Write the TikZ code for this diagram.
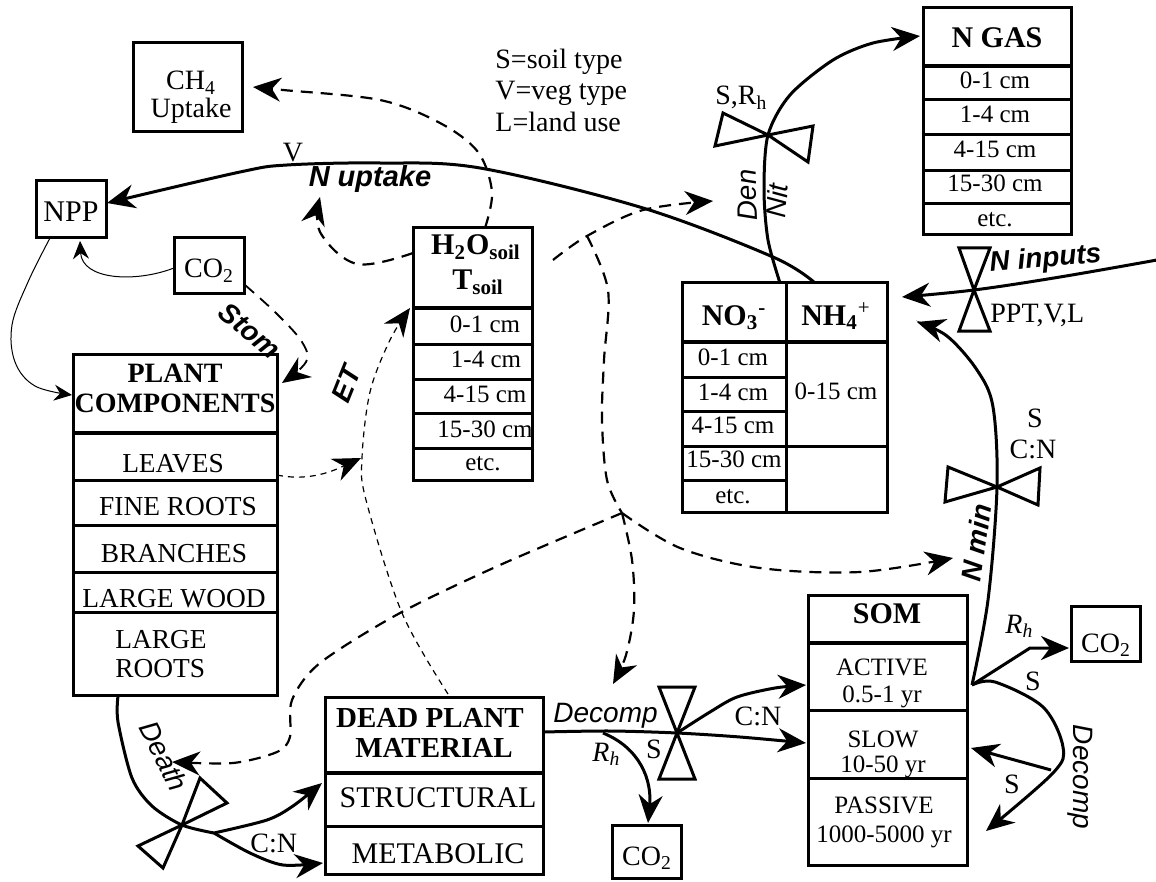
\documentclass[tikz,border=0pt]{standalone}
\usepackage{fontspec}
\setmainfont{Liberation Serif}
\setsansfont{Liberation Sans}
\usetikzlibrary{arrows.meta,fit}
\begin{document}
\begin{tikzpicture}[x=0.5pt,y=-0.5pt,
  box/.style={draw,line width=1.5pt,inner sep=0pt},
  sepl/.style={line width=1.5pt},
  hsep/.style={line width=2.4pt},
  row/.style={inner sep=0pt,anchor=base,font=\fontsize{13.7}{15}\selectfont},
  dep/.style={inner sep=0pt,anchor=base,font=\fontsize{12.5}{14}\selectfont},
  hdr/.style={inner sep=0pt,anchor=base,font=\bfseries\fontsize{15}{16}\selectfont},
  lbl/.style={inner sep=0pt,anchor=base,font=\fontsize{14}{16}\selectfont},
  bil/.style={inner sep=0pt,font=\sffamily\bfseries\itshape\fontsize{14}{16}\selectfont},
  sil/.style={inner sep=0pt,font=\sffamily\itshape\fontsize{14}{16}\selectfont},
  tip/.style={-{Stealth[length=14pt,width=12pt,inset=4.5pt]}},
  smalltip/.style={-{Stealth[length=9pt,width=8pt,inset=3pt]}},
  flow/.style={line width=1.5pt,tip},
  dflow/.style={line width=1.1pt,dash pattern=on 6pt off 4pt},
  tdash/.style={line width=0.6pt,dash pattern=on 3pt off 2.5pt},
  thinl/.style={line width=0.5pt},
  valve/.style={line width=1.5pt,line join=miter}
]
\useasboundingbox (0,0) rectangle (1156,882);

% ---------------- boxes ----------------
\node[box,fit={(133,43)(242,132)}] (ch4) {};
\node[lbl] (ch4a) at (191,90) {CH\textsubscript{4}};
\node[lbl] (ch4b) at (191,118) {Uptake};

\node[box,fit={(36,181)(106,238)}] (npp) {};
\node[lbl,font=\fontsize{15}{16}\selectfont] (nppt) at (71,222) {NPP};

\node[box,fit={(174,238)(244,293)}] (co2a) {};
\node[lbl] (co2at) at (209,278) {CO\textsubscript{2}};

% plant components
\node[box,fit={(73,354)(277,695)}] (plant) {};
\draw[hsep] (73,433) -- (277,433);
\draw[sepl] (73,480) -- (277,480) (73,525) -- (277,525) (73,572) -- (277,572) (73,612) -- (277,612);
\node[hdr,font=\bfseries\fontsize{14}{15}\selectfont] (pl1) at (175,382) {PLANT};
\node[hdr,font=\bfseries\fontsize{14}{15}\selectfont] (pl2) at (175,412) {COMPONENTS};
\node[row] (pl3) at (173,472) {LEAVES};
\node[row] (pl4) at (178,515) {FINE ROOTS};
\node[row] (pl5) at (174,562) {BRANCHES};
\node[row] (pl6) at (174,607) {LARGE WOOD};
\node[row,anchor=base west] (pl7) at (115,648) {LARGE};
\node[row,anchor=base west] (pl8) at (115,677) {ROOTS};

% H2O / T soil
\node[box,fit={(413,228)(532,480)}] (h2o) {};
\draw[hsep] (413,308) -- (532,308);
\draw[sepl] (413,344) -- (532,344) (413,379) -- (532,379) (413,413) -- (532,413) (413,448) -- (532,448);
\node[hdr] (h1) at (476,255) {H\textsubscript{2}O\textsubscript{soil}};
\node[hdr] (h2) at (478,290) {T\textsubscript{soil}};
\node[dep] (h3) at (485,332) {0-1 cm};
\node[dep] (h4) at (486,367) {1-4 cm};
\node[dep] (h5) at (485,402) {4-15 cm};
\node[dep] (h6) at (485,437) {15-30 cm};
\node[dep] (h7) at (483,470) {etc.};

% NO3 / NH4
\node[box,fit={(682,283)(887,512)}] (nbox) {};
\draw[sepl] (786,283) -- (786,512);
\draw[hsep] (682,342) -- (887,342);
\draw[sepl] (682,377) -- (786,377) (682,411) -- (786,411) (682,446) -- (887,446) (682,480) -- (786,480);
\node[hdr] (n1) at (734,325) {NO\textsubscript{3}\textsuperscript{-}};
\node[hdr] (n2) at (836,325) {NH\textsubscript{4}\textsuperscript{\mdseries +}};
\node[dep] (n3) at (733,365) {0-1 cm};
\node[dep] (n4) at (733,400) {1-4 cm};
\node[dep] (n5) at (733,433) {4-15 cm};
\node[dep] (n6) at (734,467) {15-30 cm};
\node[dep] (n7) at (733,503) {etc.};
\node[dep] (n8) at (836,399) {0-15 cm};

% N GAS
\node[box,fit={(923,8)(1071,235)}] (ngas) {};
\draw[hsep] (923,66) -- (1073,66);
\draw[sepl] (923,100) -- (1071,100) (923,135) -- (1071,135) (923,171) -- (1071,171) (923,204) -- (1071,204);
\node[hdr] (g1) at (997,48) {N GAS};
\node[dep] (g2) at (995,89) {0-1 cm};
\node[dep] (g3) at (995,123) {1-4 cm};
\node[dep] (g4) at (995,158) {4-15 cm};
\node[dep] (g5) at (995,192) {15-30 cm};
\node[dep] (g6) at (995,227) {etc.};

% SOM
\node[box,fit={(808,595)(967,865)}] (som) {};
\draw[hsep] (808,643) -- (967,643);
\draw[sepl] (808,710) -- (967,710) (808,778) -- (967,778);
\node[hdr] (s1) at (887,623) {SOM};
\node[dep] (s2) at (882,675) {ACTIVE};
\node[dep] (s3) at (882,702) {0.5-1 yr};
\node[dep] (s4) at (883,747) {SLOW};
\node[dep] (s5) at (883,772) {10-50 yr};
\node[dep] (s6) at (884,813) {PASSIVE};
\node[dep] (s7) at (884,842) {1000-5000 yr};

\node[box,fit={(1071,606)(1140,661)}] (co2c) {};
\node[lbl] (co2ct) at (1106,652) {CO\textsubscript{2}};

% Dead plant material
\node[box,fit={(325,697)(543,874)}] (dead) {};
\draw[hsep] (325,773) -- (543,773);
\draw[sepl] (325,826) -- (543,826);
\node[hdr,font=\bfseries\fontsize{14.5}{16}\selectfont] (d1) at (430,727) {DEAD PLANT};
\node[hdr,font=\bfseries\fontsize{14.5}{16}\selectfont] (d2) at (434,757) {MATERIAL};
\node[lbl,font=\fontsize{15}{16}\selectfont] (d3) at (438,807) {STRUCTURAL};
\node[lbl,font=\fontsize{15}{16}\selectfont] (d4) at (438,863) {METABOLIC};

\node[box,fit={(612,825)(681,878)}] (co2b) {};
\node[lbl] (co2bt) at (647,865) {CO\textsubscript{2}};

% ---------------- legend & labels ----------------
\node[lbl,anchor=base west] (leg1) at (495,69) {S=soil type};
\node[lbl,anchor=base west] (leg2) at (495,100) {V=veg type};
\node[lbl,anchor=base west] (leg3) at (495,132) {L=land use};

\node[lbl] (lv) at (293,162) {V};
\node[bil,anchor=base,font=\sffamily\bfseries\itshape\fontsize{14.5}{16}\selectfont] (lnup) at (370,187) {N uptake};
\node[lbl,anchor=base west] (lsrh) at (715,105) {S,R\textsubscript{h}};
\node[sil,rotate=92] (lden) at (747,195) {Den};
\node[sil,rotate=86] (lnit) at (777,201) {Nit};
\node[bil,anchor=base west,rotate=5] (lnin) at (990,272) {N inputs};
\node[lbl,anchor=base west] (lppt) at (990,322) {PPT,V,L};
\node[lbl] (lnms) at (1035,427) {S};
\node[lbl] (lnmc) at (1033,458) {C:N};
\node[bil,rotate=82] (lnmin) at (976,543) {N min};
\node[bil,rotate=-40] (lstom) at (250,331) {Stom};
\node[bil,rotate=68] (let) at (346,384) {ET};
\node[sil,anchor=base west] (ldec) at (553,722) {Decomp};
\node[lbl] (ldecs) at (654,758) {S};
\node[lbl] (ldecc) at (758,725) {C:N};
\node[lbl,anchor=base west] (lrh1) at (592,761) {\textit{R}\textsubscript{\textit{h}}};
\node[lbl,anchor=base west] (ldcn) at (250,852) {C:N};
\node[sil,rotate=-63] (ldeath) at (164,756) {Death};
\node[lbl,anchor=base west] (lrh2) at (1005,633) {\textit{R}\textsubscript{\textit{h}}};
\node[lbl] (lss1) at (1033,690) {S};
\node[lbl] (lss2) at (1012,793) {S};
\node[sil,rotate=-90] (ldec2) at (1080,777) {Decomp};

% ---------------- valves ----------------
\coordinate (vden) at (768,135);
\coordinate (vin) at (974,290);
\coordinate (vmin) at (997,487);
\coordinate (vdec) at (677,733);
\coordinate (vdeath) at (182,825);
\draw[valve] (vden) -- ++(-53,11) -- ++(8,-33) -- cycle;
\draw[valve] (vden) -- ++(45,-9) -- ++(-5,36) -- cycle;
\draw[valve] (vin) -- ++(-15,-42) -- ++(31,0) -- cycle;
\draw[valve] (vin) -- ++(-15,41) -- ++(31,0) -- cycle;
\draw[valve] (vmin) -- ++(-52,15) -- ++(3,-35) -- cycle;
\draw[valve] (vmin) -- ++(43,-19) -- ++(-2,37) -- cycle;
\draw[valve] (vdec) -- ++(-18,-46) -- ++(36,0) -- cycle;
\draw[valve] (vdec) -- ++(-18,46) -- ++(36,0) -- cycle;
\draw[valve] (vdeath) -- ++(18,-47) -- ++(27,25) -- cycle;
\draw[valve] (vdeath) -- ++(-44,21) -- ++(25,22) -- cycle;

% ---------------- solid flows ----------------
\coordinate (nuS) at (815,283);
\coordinate (nuE) at (107,203);
\draw[flow] plot[smooth,tension=0.55] coordinates {(nuS) (773,257) (643,208) (480,168) (380,163) (287,165) (240,172) (nuE)};

\coordinate (denS) at (780,283);
\coordinate (denE) at (920,36);
\draw[flow] plot[smooth,tension=0.5] coordinates {(denS) (768,240) (764,190) (vden) (790,95) (833,60) (873,43) (denE)};

\coordinate (inS) at (1157,260);
\coordinate (inE) at (902,297);
\draw[flow] plot[smooth,tension=0.6] coordinates {(inS) (1060,277) (vin) (inE)};

\coordinate (junc) at (972,685);
\coordinate (minE) at (917,322);
\draw[flow] plot[smooth,tension=0.55] coordinates {(junc) (988,600) (vmin) (993,407) (977,370) (947,336) (minE)};

\coordinate (decS) at (543,732);
\coordinate (decE) at (806,743);
\coordinate (decA) at (806,685);
\draw[flow] plot[smooth,tension=0.5] coordinates {(decS) (610,731) (vdec) (740,737) (decE)};
\draw[flow] plot[smooth,tension=0.5] coordinates {(vdec) (710,712) (737,697) (775,688) (decA)};

\coordinate (rhS) at (603,733);
\coordinate (rhE) at (648,823);
\draw[flow] (rhS) .. controls (640,748) and (652,780) .. (rhE);

\coordinate (deathS) at (118,696);
\coordinate (dsplit) at (214,833);
\coordinate (structE) at (322,783);
\coordinate (metabE) at (323,863);
\draw[line width=1.5pt] plot[smooth,tension=0.5] coordinates {(deathS) (118,722) (132,778) (152,806) (vdeath) (dsplit)};
\draw[flow] plot[smooth,tension=0.5] coordinates {(dsplit) (267,820) (293,806) (structE)};
\draw[flow] plot[smooth,tension=0.5] coordinates {(dsplit) (250,853) (283,865) (metabE)};

% SOM side
\coordinate (rh2E) at (1069,648);
\draw[flow] (junc) -- (1030,648) -- (rh2E);
\coordinate (passE) at (986,831);
\draw[flow] plot[smooth,tension=0.55] coordinates {(junc) (995,682) (1043,707) (1063,747) (1053,773) (passE)};
\coordinate (slowS) at (1051,770);
\coordinate (slowE) at (971,748);
\draw[flow] (slowS) -- (slowE);

% thin solid
\coordinate (cnS) at (174,268);
\coordinate (cnE) at (80,241);
\draw[thinl,smalltip] (cnS) .. controls (135,283) and (82,280) .. (cnE);
\coordinate (npS) at (50,238);
\coordinate (npE) at (72,395);
\draw[thinl,smalltip] plot[smooth,tension=0.6] coordinates {(npS) (28,282) (12,325) (15,362) (35,386) (npE)};

% ---------------- dashed influences ----------------
\coordinate (stS) at (245,285);
\coordinate (stE) at (282,383);
\draw[dflow,line width=0.9pt,tip] plot[smooth,tension=0.6] coordinates {(stS) (277,314) (302,342) (306,362) (stE)};

\coordinate (lvS) at (277,475);
\coordinate (etE) at (410,308);
\coordinate (etS) at (448,694);
\coordinate (etM) at (361,458);
\draw[tdash,tip] (lvS) .. controls (310,482) and (335,470) .. (etM);
\draw[tdash,tip] plot[smooth,tension=0.55] coordinates {(etS) (402,613) (366,500) (362,458) (370,392) (390,340) (etE)};

\coordinate (hwS) at (413,253);
\coordinate (hwE) at (320,197);
\draw[dflow,tip] plot[smooth,tension=0.6] coordinates {(hwS) (357,264) (320,232) (hwE)};

\coordinate (hcS) at (485,228);
\coordinate (hcE) at (253,87);
\draw[dflow,tip] plot[smooth,tension=0.55] coordinates {(hcS) (492,192) (478,152) (440,123) (380,100) (283,90) (hcE)};

\coordinate (hdS) at (553,260);
\coordinate (hdB) at (587,236);
\coordinate (hdE) at (713,201);
\draw[dflow,tip] plot[smooth,tension=0.55] coordinates {(hdS) (hdB) (643,210) (hdE)};

\coordinate (tj) at (622,513);
\draw[dflow] plot[smooth,tension=0.55] coordinates {(hdB) (608,290) (604,360) (602,420) (607,480) (tj)};
\coordinate (tdE) at (613,684);
\draw[dflow,tip] plot[smooth,tension=0.55] coordinates {(tj) (632,560) (634,610) (626,655) (tdE)};
\coordinate (tmE) at (953,558);
\draw[dflow,tip] plot[smooth,tension=0.55] coordinates {(tj) (680,548) (760,568) (860,572) (tmE)};
\coordinate (tdeE) at (172,762);
\draw[dflow,tip] plot[smooth,tension=0.5] coordinates {(tj) (500,565) (400,613) (320,663) (292,700) (290,737) (277,752) (233,763) (tdeE)};

\end{tikzpicture}
\end{document}
